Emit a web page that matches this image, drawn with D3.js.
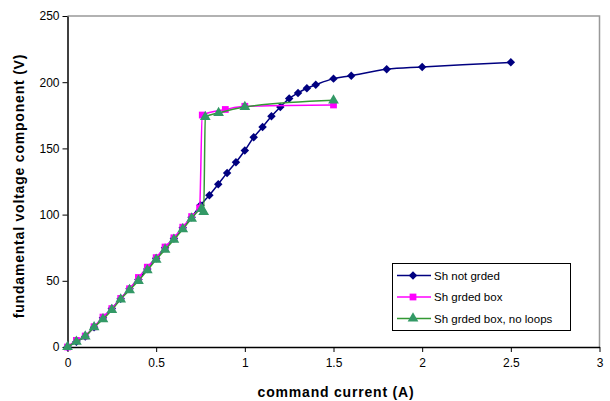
<!DOCTYPE html>
<html lang="en">
<head>
<meta charset="UTF-8">
<title>fundamental voltage component vs command current</title>
<script src="https://cdn.jsdelivr.net/npm/d3@7/dist/d3.min.js"></script>
<style>
  body { margin: 0; background: #fff; }
  text { font-family: "Liberation Sans", Arial, sans-serif; fill: #000; }
</style>
</head>
<body>
<script>
// data
var notGrdedX = [0, 0.05, 0.1, 0.15, 0.2, 0.25, 0.3, 0.35, 0.4, 0.45, 0.5, 0.55, 0.6, 0.65, 0.7, 0.75,
                 0.8, 0.85, 0.9, 0.95, 1.0, 1.05, 1.1, 1.15, 1.2, 1.25, 1.3, 1.35, 1.4, 1.5, 1.6, 1.8, 2.0, 2.5];
var notGrdedY = [0, 4, 8, 15, 22, 29, 36.5, 44, 51, 59, 67, 75, 82, 90, 98, 107,
                 114.7, 123, 131.5, 139.5, 148.4, 158.4, 166.2, 174.2, 181.3, 187.6, 191.9, 195.4, 198.1, 202.7, 204.9, 209.7, 211.5, 215];

var boxX = [0, 0.05, 0.1, 0.15, 0.2, 0.25, 0.3, 0.35, 0.4, 0.45, 0.5, 0.55, 0.6, 0.65, 0.7, 0.745, 0.76, 0.89, 1.0, 1.5];
var boxY = [0, 5, 8.3, 15.3, 22.6, 29, 36.7, 44, 52.5, 60.3, 67.5, 75.5, 82.5, 90.5, 98.5, 105, 175.2, 179.4, 181.8, 182.8];

var loopsX = [0, 0.05, 0.1, 0.15, 0.2, 0.25, 0.3, 0.35, 0.4, 0.45, 0.5, 0.55, 0.6, 0.65, 0.7, 0.755, 0.768, 0.777, 0.852, 1.0, 1.5];
var loopsY = [0, 4, 8, 15, 21, 28, 36, 43, 50, 58, 66, 73.5, 81, 89, 97, 104.3, 102, 173.7, 176.8, 181.3, 186.3];

var seriesNames = ["Sh not grded", "Sh grded box", "Sh grded box, no loops"];
var xTicks = [0, 0.5, 1, 1.5, 2, 2.5, 3];
var yTicks = [0, 50, 100, 150, 200, 250];

var W = 610, H = 401;
var pLeft = 67.5, pRight = 599.5, pTop = 16, pBottom = 347;

var svg = d3.select("body").append("svg")
  .attr("width", W).attr("height", H);

var x = d3.scaleLinear().domain([0, 3]).range([pLeft, pRight]);
var y = d3.scaleLinear().domain([0, 250]).range([pBottom, pTop]);

// grey frame top / right
svg.append("path")
  .attr("d", "M" + pLeft + "," + pTop + "H" + pRight + "V" + pBottom)
  .attr("fill", "none").attr("stroke", "#999").attr("stroke-width", 1.5);

var xAxis = svg.append("g")
  .attr("transform", "translate(0," + pBottom + ")")
  .call(d3.axisBottom(x).tickValues(xTicks).tickSize(5).tickPadding(6).tickSizeOuter(0)
        .tickFormat(d3.format("")));
var yAxis = svg.append("g")
  .attr("transform", "translate(" + pLeft + ",0)")
  .call(d3.axisLeft(y).tickValues(yTicks).tickSize(5).tickPadding(3).tickSizeOuter(0));

[xAxis, yAxis].forEach(function (g) {
  g.select(".domain").attr("stroke", "#000").attr("stroke-width", 1.5);
  g.selectAll(".tick line").attr("stroke", "#000");
  g.selectAll(".tick text").attr("font-size", 12)
    .attr("font-family", "'Liberation Sans', Arial, sans-serif").attr("fill", "#000");
});

svg.append("text")
  .attr("x", 336).attr("y", 397)
  .attr("text-anchor", "middle")
  .attr("font-size", 14).attr("font-weight", "bold")
  .attr("letter-spacing", 0.8)
  .text("command current (A)");

svg.append("text")
  .attr("transform", "translate(24,186) rotate(-90)")
  .attr("text-anchor", "middle")
  .attr("font-size", 14).attr("font-weight", "bold")
  .attr("letter-spacing", 0.8)
  .text("fundamental  voltage component (V)");

// excel-like square diamond: a square turned 45 degrees
var series = [
  { name: seriesNames[0], xs: notGrdedX, ys: notGrdedY, line: "#000080", fill: "#000080",
    shape: d3.symbolSquare, size: 36, rot: 45, curve: d3.curveCatmullRom.alpha(0.5) },
  { name: seriesNames[1], xs: boxX, ys: boxY, line: "#ff00ff", fill: "#ff00ff",
    shape: d3.symbolSquare, size: 46, rot: 0, curve: d3.curveMonotoneX },
  { name: seriesNames[2], xs: loopsX, ys: loopsY, line: "#339933", fill: "#339966",
    shape: d3.symbolTriangle, size: 50, rot: 0, curve: d3.curveMonotoneX }
];

series.forEach(function (s) {
  var pts = s.xs.map(function (v, i) { return [v, s.ys[i]]; });
  var line = d3.line()
    .x(function (d) { return x(d[0]); })
    .y(function (d) { return y(d[1]); })
    .curve(s.curve);
  var g = svg.append("g");
  g.append("path")
    .datum(pts)
    .attr("d", line)
    .attr("fill", "none")
    .attr("stroke", s.line)
    .attr("stroke-width", 1.5);
  g.selectAll("path.mark")
    .data(pts)
    .enter().append("path")
    .attr("class", "mark")
    .attr("transform", function (d) {
      return "translate(" + x(d[0]) + "," + y(d[1]) + ") rotate(" + s.rot + ")";
    })
    .attr("d", d3.symbol().type(s.shape).size(s.size))
    .attr("fill", s.fill);
});

// legend
var legend = svg.append("g");
legend.append("rect")
  .attr("x", 392.5).attr("y", 263.5).attr("width", 178).attr("height", 67)
  .attr("fill", "#fff").attr("stroke", "#000").attr("stroke-width", 1);

series.forEach(function (s, i) {
  var ly = 275.5 + i * 21.5;
  legend.append("line")
    .attr("x1", 397).attr("x2", 431).attr("y1", ly).attr("y2", ly)
    .attr("stroke", s.line).attr("stroke-width", 1.5);
  legend.append("path")
    .attr("transform", "translate(413," + ly + ") rotate(" + s.rot + ")")
    .attr("d", d3.symbol().type(s.shape).size(s.size))
    .attr("fill", s.fill);
  legend.append("text")
    .attr("x", 434).attr("y", ly + 4)
    .attr("font-size", 11.5)
    .text(s.name);
});
</script>
</body>
</html>
